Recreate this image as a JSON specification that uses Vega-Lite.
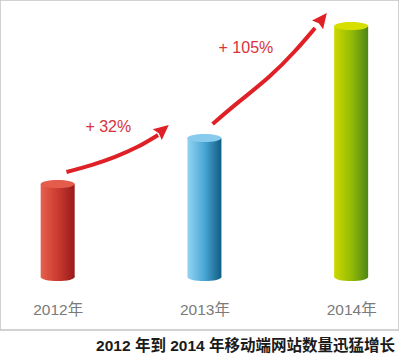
{
  "$schema": "https://vega.github.io/schema/vega-lite/v6.json",
  "width": 399,
  "height": 330,
  "padding": 0,
  "autosize": {"type": "pad"},
  "background": "white",
  "config": {"view": {"stroke": "#c4c4c4", "strokeWidth": 1.5}},
  "title": {
    "text": "2012 年到 2014 年移动端网站数量迅猛增长",
    "orient": "bottom",
    "anchor": "end",
    "fontSize": 15.5,
    "fontWeight": "bold",
    "color": "#1a1a1a",
    "font": "Liberation Sans, Noto Sans CJK SC",
    "offset": 9,
    "dx": -4
  },
  "datasets": {
    "bars": [
      {"year": 2012, "value": 93},
      {"year": 2013, "value": 139},
      {"year": 2014, "value": 251}
    ],
    "arrows": [
      {"arrow": "a", "x": 2012.06, "y": 105},
      {"arrow": "a", "x": 2012.239, "y": 112},
      {"arrow": "a", "x": 2012.392, "y": 120},
      {"arrow": "a", "x": 2012.538, "y": 129},
      {"arrow": "a", "x": 2012.684, "y": 142},
      {"arrow": "b", "x": 2013.056, "y": 153},
      {"arrow": "b", "x": 2013.222, "y": 174},
      {"arrow": "b", "x": 2013.448, "y": 200},
      {"arrow": "b", "x": 2013.621, "y": 226},
      {"arrow": "b", "x": 2013.754, "y": 249}
    ],
    "heads": [
      {"arrow": "a", "x": 2012.757, "y": 152},
      {"arrow": "b", "x": 2013.834, "y": 264}
    ],
    "notes": [
      {"x": 2012.345, "y": 150, "text": "+ 32%"},
      {"x": 2013.283, "y": 229, "text": "+ 105%"}
    ]
  },
  "layer": [
    {
      "data": {"name": "bars"},
      "mark": {"type": "point", "filled": true, "opacity": 1, "strokeWidth": 0, "size": 1156, "shape": "M -1 0 A 1 0.24 0 1 1 1 0 A 1 0.24 0 1 1 -1 0 Z"},
      "encoding": {
        "x": {"field": "year", "type": "quantitative", "scale": {"domain": [2011.641, 2014.292], "nice": false, "zero": false},
          "axis": {"values": [2012, 2013, 2014], "format": "d", "labelExpr": "datum.label + '年'", "domain": false, "ticks": false, "grid": false, "title": null, "labelFontSize": 15.5, "labelColor": "#7a7a7a", "labelFont": "Liberation Sans, Noto Sans CJK SC", "offset": -30, "labelPadding": 2}},
        "y": {"datum": 0, "type": "quantitative", "scale": {"domain": [-53, 277], "nice": false}, "axis": null},
        "color": {
          "condition": [
            {"test": "datum.year === 2012", "value": {"gradient": "linear", "x1": 0, "x2": 1, "y1": 0, "y2": 0, "stops": [{"offset": 0, "color": "#e6604d"}, {"offset": 0.5, "color": "#cc3a30"}, {"offset": 1, "color": "#981a1c"}]}},
            {"test": "datum.year === 2013", "value": {"gradient": "linear", "x1": 0, "x2": 1, "y1": 0, "y2": 0, "stops": [{"offset": 0, "color": "#93d4f2"}, {"offset": 0.5, "color": "#4aa6d4"}, {"offset": 1, "color": "#0f5d83"}]}}
          ],
          "value": {"gradient": "linear", "x1": 0, "x2": 1, "y1": 0, "y2": 0, "stops": [{"offset": 0, "color": "#cdd800"}, {"offset": 0.5, "color": "#95bc05"}, {"offset": 1, "color": "#4c8616"}]}
        }
      }
    },
    {
      "data": {"name": "bars"},
      "mark": {"type": "bar", "width": 34},
      "encoding": {
        "x": {"field": "year", "type": "quantitative", "scale": {"domain": [2011.641, 2014.292], "nice": false, "zero": false},
          "axis": {"values": [2012, 2013, 2014], "format": "d", "labelExpr": "datum.label + '年'", "domain": false, "ticks": false, "grid": false, "title": null, "labelFontSize": 15.5, "labelColor": "#7a7a7a", "labelFont": "Liberation Sans, Noto Sans CJK SC", "offset": -30, "labelPadding": 2}},
        "y": {"field": "value", "type": "quantitative", "scale": {"domain": [-53, 277], "nice": false}, "axis": null},
        "y2": {"datum": 0},
        "color": {
          "condition": [
            {"test": "datum.year === 2012", "value": {"gradient": "linear", "x1": 0, "x2": 1, "y1": 0, "y2": 0, "stops": [{"offset": 0, "color": "#e6604d"}, {"offset": 0.5, "color": "#cc3a30"}, {"offset": 1, "color": "#981a1c"}]}},
            {"test": "datum.year === 2013", "value": {"gradient": "linear", "x1": 0, "x2": 1, "y1": 0, "y2": 0, "stops": [{"offset": 0, "color": "#93d4f2"}, {"offset": 0.5, "color": "#4aa6d4"}, {"offset": 1, "color": "#0f5d83"}]}}
          ],
          "value": {"gradient": "linear", "x1": 0, "x2": 1, "y1": 0, "y2": 0, "stops": [{"offset": 0, "color": "#cdd800"}, {"offset": 0.5, "color": "#95bc05"}, {"offset": 1, "color": "#4c8616"}]}
        }
      }
    },
    {
      "data": {"name": "bars"},
      "mark": {"type": "point", "filled": true, "opacity": 1, "strokeWidth": 0, "size": 1156, "shape": "M -1 0 A 1 0.24 0 1 1 1 0 A 1 0.24 0 1 1 -1 0 Z"},
      "encoding": {
        "x": {"field": "year", "type": "quantitative", "scale": {"domain": [2011.641, 2014.292], "nice": false, "zero": false},
          "axis": {"values": [2012, 2013, 2014], "format": "d", "labelExpr": "datum.label + '年'", "domain": false, "ticks": false, "grid": false, "title": null, "labelFontSize": 15.5, "labelColor": "#7a7a7a", "labelFont": "Liberation Sans, Noto Sans CJK SC", "offset": -30, "labelPadding": 2}},
        "y": {"field": "value", "type": "quantitative", "scale": {"domain": [-53, 277], "nice": false}, "axis": null},
        "color": {
          "condition": [
            {"test": "datum.year === 2012", "value": "#e45d4c"},
            {"test": "datum.year === 2013", "value": "#88cbec"}
          ],
          "value": "#d5df00"
        }
      }
    },
    {
      "data": {"name": "arrows"},
      "mark": {"type": "line", "interpolate": "basis", "color": "#e02027", "strokeWidth": 4},
      "encoding": {
        "x": {"field": "x", "type": "quantitative", "scale": {"domain": [2011.641, 2014.292], "nice": false, "zero": false},
          "axis": {"values": [2012, 2013, 2014], "format": "d", "labelExpr": "datum.label + '年'", "domain": false, "ticks": false, "grid": false, "title": null, "labelFontSize": 15.5, "labelColor": "#7a7a7a", "labelFont": "Liberation Sans, Noto Sans CJK SC", "offset": -30, "labelPadding": 2}},
        "y": {"field": "y", "type": "quantitative", "scale": {"domain": [-53, 277], "nice": false}, "axis": null},
        "detail": {"field": "arrow"}
      }
    },
    {
      "data": {"name": "heads"},
      "mark": {"type": "point", "filled": true, "opacity": 1, "strokeWidth": 0, "color": "#e02027", "size": 400, "shape": "M 0 0 L 0.7 1.5 L 0 1.3 L -0.7 1.5 Z"},
      "encoding": {
        "x": {"field": "x", "type": "quantitative", "scale": {"domain": [2011.641, 2014.292], "nice": false, "zero": false},
          "axis": {"values": [2012, 2013, 2014], "format": "d", "labelExpr": "datum.label + '年'", "domain": false, "ticks": false, "grid": false, "title": null, "labelFontSize": 15.5, "labelColor": "#7a7a7a", "labelFont": "Liberation Sans, Noto Sans CJK SC", "offset": -30, "labelPadding": 2}},
        "y": {"field": "y", "type": "quantitative", "scale": {"domain": [-53, 277], "nice": false}, "axis": null},
        "angle": {"condition": {"test": "datum.arrow === 'a'", "value": 50}, "value": 38}
      }
    },
    {
      "data": {"name": "notes"},
      "mark": {"type": "text", "color": "#d8323a", "fontSize": 16, "font": "Liberation Sans, Noto Sans CJK SC"},
      "encoding": {
        "x": {"field": "x", "type": "quantitative", "scale": {"domain": [2011.641, 2014.292], "nice": false, "zero": false},
          "axis": {"values": [2012, 2013, 2014], "format": "d", "labelExpr": "datum.label + '年'", "domain": false, "ticks": false, "grid": false, "title": null, "labelFontSize": 15.5, "labelColor": "#7a7a7a", "labelFont": "Liberation Sans, Noto Sans CJK SC", "offset": -30, "labelPadding": 2}},
        "y": {"field": "y", "type": "quantitative", "scale": {"domain": [-53, 277], "nice": false}, "axis": null},
        "text": {"field": "text"}
      }
    }
  ]
}
